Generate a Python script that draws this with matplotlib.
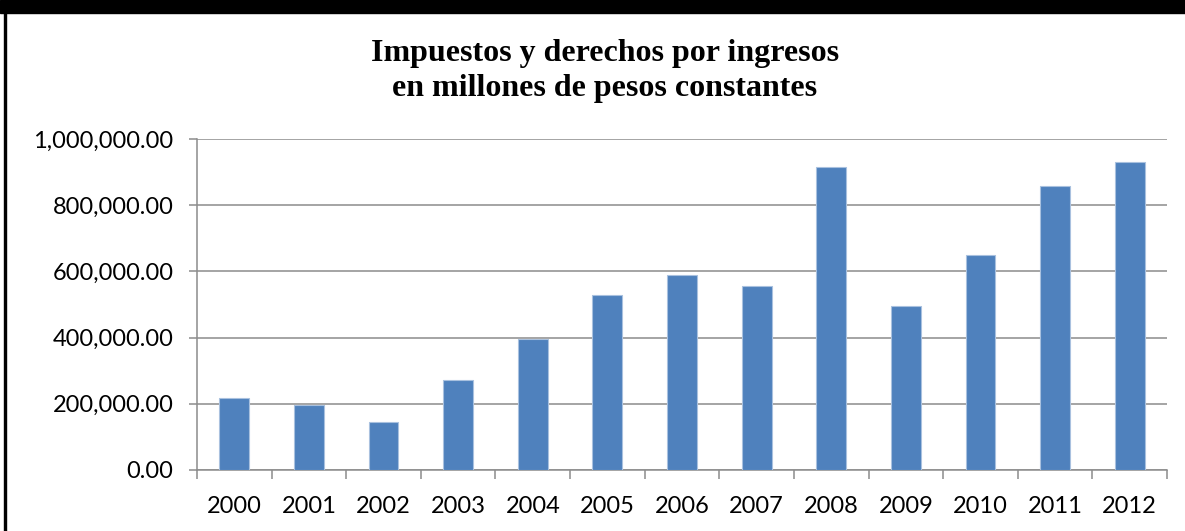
import matplotlib
matplotlib.use("Agg")
import matplotlib.pyplot as plt
from matplotlib.patches import Rectangle
from matplotlib.ticker import FuncFormatter, FixedLocator

# values (millones de pesos constantes)
years = ["2000", "2001", "2002", "2003", "2004", "2005", "2006",
         "2007", "2008", "2009", "2010", "2011", "2012"]
values = [218000, 197000, 146000, 272000, 397000, 528000, 588000,
          556000, 914000, 494000, 649000, 857000, 930000]
yticks = [0, 200000, 400000, 600000, 800000, 1000000]

W, H = 1185, 531
fig = plt.figure(figsize=(W / 100, H / 100), dpi=100)
ax = fig.add_axes([197 / W, 1 - 470 / H, (1167 - 197) / W, (470 - 139) / H])

grey = "#8c8c8c"
x = list(range(len(years)))
ax.bar(x, values, width=0.4, color="#4f81bd", edgecolor="#a9c1df",
       linewidth=0.8, zorder=3)

ax.set_xlim(-0.5, len(years) - 0.5)
ax.set_ylim(0, 1000000)
ax.set_yticks(yticks)
ax.yaxis.set_major_formatter(FuncFormatter(lambda v, p: "{:,.2f}".format(v)))
ax.grid(axis="y", color=grey, linewidth=1.1, zorder=0)

ax.set_xticks(x)
ax.set_xticklabels(years)
ax.xaxis.set_minor_locator(FixedLocator([i - 0.5 for i in range(len(years) + 1)]))
ax.tick_params(axis="x", which="major", length=0, pad=18.5)
ax.tick_params(axis="x", which="minor", length=6.5, width=1.1, color=grey)
ax.tick_params(axis="y", length=6, width=1.1, color=grey, pad=11)

for lab in ax.get_xticklabels() + ax.get_yticklabels():
    lab.set_fontfamily("Lato")
    lab.set_fontsize(17)
    lab.set_color("black")

for s in ["top", "right"]:
    ax.spines[s].set_visible(False)
for s in ["left", "bottom"]:
    ax.spines[s].set_color(grey)
    ax.spines[s].set_linewidth(1.1)

fig.text(605 / W, 1 - 71 / H, "Impuestos y derechos por ingresos\nen millones de pesos constantes",
         ha="center", va="center", fontfamily="Liberation Serif",
         fontweight="bold", fontsize=23, linespacing=1.3)

# black frame pieces visible in the source image
fig.add_artist(Rectangle((0, 1 - 13 / H), 1, 13 / H, transform=fig.transFigure,
                         color="black", zorder=10))
fig.add_artist(Rectangle((4 / W, 0), 2 / W, 1 - 13 / H, transform=fig.transFigure,
                         color="black", zorder=10))

fig.savefig("out.png", dpi=100)
